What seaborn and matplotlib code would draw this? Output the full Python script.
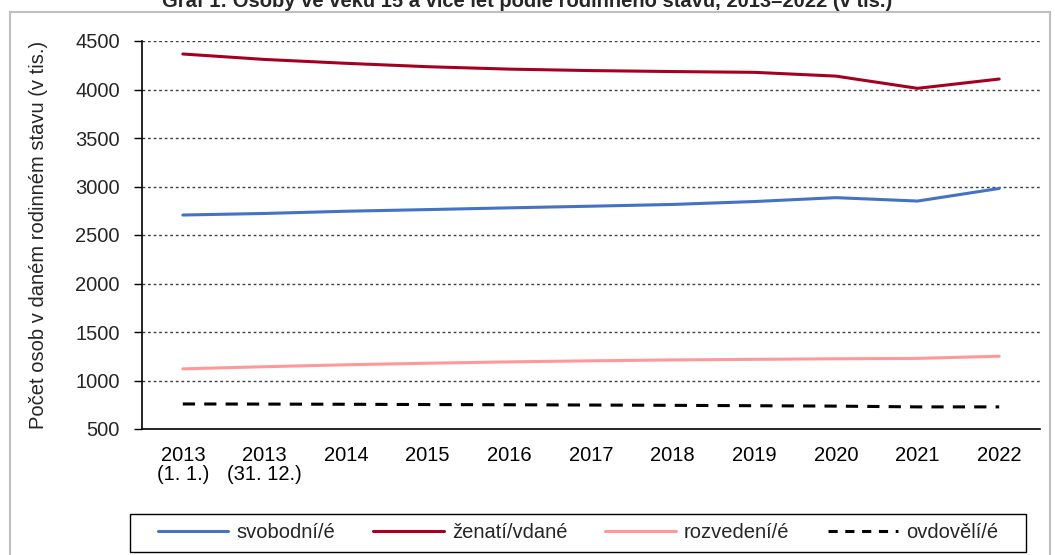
import matplotlib
matplotlib.use("Agg")
import matplotlib.pyplot as plt
import matplotlib.patches as mpatches
import seaborn as sns
import pandas as pd
import numpy as np

categories = ["2013\n(1. 1.)", "2013\n(31. 12.)", "2014", "2015", "2016", "2017",
              "2018", "2019", "2020", "2021", "2022"]
svobodni = [2706, 2722, 2745, 2762, 2780, 2797, 2815, 2845, 2885, 2850, 2980]
zenati = [4366, 4310, 4270, 4235, 4210, 4195, 4185, 4177, 4138, 4012, 4108]
rozvedeni = [1120, 1142, 1162, 1178, 1192, 1203, 1212, 1218, 1224, 1228, 1250]
ovdoveli = [758, 757, 755, 752, 750, 747, 744, 740, 736, 728, 728]
series_names = ["svobodní/é", "ženatí/vdané", "rozvedení/é", "ovdovělí/é"]
yticks = [500, 1000, 1500, 2000, 2500, 3000, 3500, 4000, 4500]

sns.set_theme(style="white")
plt.rcParams['font.family'] = ['Liberation Sans', 'DejaVu Sans']

rows = []
for name, vals in zip(series_names, [svobodni, zenati, rozvedeni, ovdoveli]):
    for i, v in enumerate(vals):
        rows.append({"x": i, "value": v, "serie": name})
df = pd.DataFrame(rows)

palette = {"svobodní/é": "#4472C4", "ženatí/vdané": "#A50021",
           "rozvedení/é": "#FF9999", "ovdovělí/é": "#000000"}
dashes = {"svobodní/é": "", "ženatí/vdané": "", "rozvedení/é": "", "ovdovělí/é": (4, 3)}

FS = 14.5

fig = plt.figure(figsize=(10.55, 5.55), dpi=100)
ax = fig.add_axes([142/1055, 1-429/555, 898/1055, 388/555])

sns.lineplot(data=df, x="x", y="value", hue="serie", style="serie",
             palette=palette, dashes=dashes, linewidth=2.2, ax=ax, legend=False)

ax.set_xlim(-0.5, 10.5)
ax.set_ylim(500, 4500)
ax.set_yticks(yticks)
ax.set_yticklabels([str(t) for t in yticks], fontsize=FS)
ax.set_xticks(range(len(categories)))
ax.set_xticklabels(categories, fontsize=FS)
ax.set_xticks(np.arange(-0.5, 10.6, 1), minor=True)
ax.tick_params(axis="x", which="major", length=0, pad=12, colors="black")
ax.tick_params(axis="x", which="minor", length=5, width=1, color="#555555", direction="out")
ax.tick_params(axis="y", which="major", length=6, width=1, color="black", direction="out", left=True, pad=10)
for lab in ax.get_xticklabels():
    lab.set_linespacing(1.05)
    lab.set_verticalalignment("top")

ax.grid(False)
for t in yticks[1:]:
    ax.axhline(t, color="#404040", linestyle=(0, (2, 2)), linewidth=1, zorder=0)

for s in ["top", "right"]:
    ax.spines[s].set_visible(False)
for s in ["left", "bottom"]:
    ax.spines[s].set_color("black")
    ax.spines[s].set_linewidth(1.2)

ax.set_xlabel("")
ax.set_ylabel("Počet osob v daném rodinném stavu (v tis.)", fontsize=FS)
ax.yaxis.set_label_coords(-0.105, 0.5)

# outer frame
fig.patches.append(mpatches.Rectangle((10/1055, -0.01), 1040/1055, 1-12/555+0.01,
                                      transform=fig.transFigure, fill=False,
                                      edgecolor="#bfbfbf", linewidth=1.5))

# title (cropped at the top, as in the reference)
fig.text(0.5, 1-7/555, "Graf 1: Osoby ve věku 15 a více let podle rodinného stavu, 2013–2022 (v tis.)",
         ha="center", va="baseline", fontsize=FS, fontweight="bold")

# legend box
fig.patches.append(mpatches.Rectangle((130/1055, 1-552/555), 896/1055, 38/555,
                                      transform=fig.transFigure, fill=False,
                                      edgecolor="black", linewidth=1))
handles = [
    plt.Line2D([], [], color=palette[n], linewidth=2.2,
               linestyle=(0, (3, 2.5)) if n == "ovdovělí/é" else "-")
    for n in series_names
]
leg = fig.legend(handles, series_names, loc="center", ncol=4,
                 bbox_to_anchor=(578/1055, 1-533/555),
                 frameon=False, fontsize=FS, handlelength=3.5,
                 borderaxespad=0, handletextpad=0.4, columnspacing=1.9)

fig.savefig("out.png", dpi=100)
